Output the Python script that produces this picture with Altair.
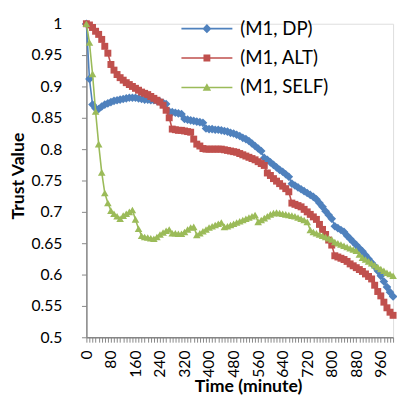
import altair as alt
import pandas as pd

minutes = list(range(0, 1001, 10))
names = ["(M1, DP)", "(M1, ALT)", "(M1, SELF)"]
colors = ["#4F81BD", "#C0504D", "#9BBB59"]

dp = [1.000, 0.912, 0.871, 0.865, 0.864, 0.868, 0.871, 0.873, 0.875, 0.877,
      0.878, 0.879, 0.880, 0.881, 0.882, 0.882, 0.882, 0.881, 0.880, 0.879,
      0.879, 0.878, 0.878, 0.877, 0.876, 0.874, 0.872, 0.860, 0.859, 0.858,
      0.857, 0.856, 0.848, 0.847, 0.846, 0.845, 0.844, 0.843, 0.842, 0.833,
      0.832, 0.832, 0.831, 0.831, 0.830, 0.829, 0.828, 0.826, 0.825, 0.823,
      0.821, 0.818, 0.816, 0.813, 0.809, 0.805, 0.801, 0.797, 0.786, 0.783,
      0.779, 0.775, 0.771, 0.767, 0.764, 0.760, 0.756, 0.745, 0.742, 0.739,
      0.736, 0.733, 0.730, 0.727, 0.724, 0.720, 0.714, 0.708, 0.701, 0.695,
      0.689, 0.677, 0.674, 0.671, 0.668, 0.662, 0.657, 0.652, 0.647, 0.642,
      0.637, 0.631, 0.625, 0.619, 0.613, 0.606, 0.598, 0.589, 0.580, 0.572, 0.565]

alt_v = [1.000, 0.998, 0.994, 0.988, 0.983, 0.975, 0.964, 0.953, 0.935, 0.926,
         0.919, 0.914, 0.910, 0.906, 0.903, 0.900, 0.897, 0.894, 0.891, 0.889,
         0.887, 0.884, 0.881, 0.878, 0.875, 0.870, 0.862, 0.850, 0.832, 0.831,
         0.830, 0.830, 0.829, 0.828, 0.827, 0.816, 0.808, 0.805, 0.801, 0.800,
         0.800, 0.800, 0.800, 0.800, 0.800, 0.799, 0.798, 0.797, 0.796, 0.795,
         0.793, 0.791, 0.789, 0.787, 0.785, 0.783, 0.780, 0.777, 0.774, 0.762,
         0.758, 0.753, 0.749, 0.745, 0.741, 0.737, 0.732, 0.714, 0.712, 0.710,
         0.708, 0.704, 0.700, 0.696, 0.692, 0.688, 0.680, 0.672, 0.664, 0.655,
         0.647, 0.630, 0.628, 0.626, 0.624, 0.621, 0.617, 0.614, 0.611, 0.608,
         0.605, 0.601, 0.597, 0.593, 0.583, 0.573, 0.566, 0.556, 0.547, 0.540, 0.535]

self_v = [1.000, 0.970, 0.920, 0.860, 0.808, 0.763, 0.730, 0.714, 0.702, 0.697,
          0.693, 0.689, 0.694, 0.697, 0.700, 0.703, 0.688, 0.673, 0.662, 0.660,
          0.659, 0.658, 0.657, 0.660, 0.664, 0.667, 0.670, 0.672, 0.666, 0.666,
          0.665, 0.665, 0.668, 0.672, 0.675, 0.676, 0.663, 0.666, 0.669, 0.672,
          0.675, 0.677, 0.679, 0.681, 0.683, 0.676, 0.677, 0.679, 0.681, 0.683,
          0.685, 0.687, 0.689, 0.691, 0.693, 0.695, 0.684, 0.687, 0.690, 0.693,
          0.696, 0.698, 0.699, 0.698, 0.697, 0.696, 0.695, 0.694, 0.693, 0.691,
          0.689, 0.687, 0.684, 0.671, 0.668, 0.666, 0.664, 0.662, 0.660, 0.658,
          0.656, 0.652, 0.650, 0.648, 0.646, 0.644, 0.642, 0.640, 0.638, 0.632,
          0.627, 0.624, 0.621, 0.618, 0.615, 0.612, 0.609, 0.606, 0.603, 0.601, 0.598]

y_ticks = [0.5, 0.55, 0.6, 0.65, 0.7, 0.75, 0.8, 0.85, 0.9, 0.95, 1.0]

rows = []
for name, vals in zip(names, [dp, alt_v, self_v]):
    for m, v in zip(minutes, vals):
        rows.append({"series": name, "minute": m, "value": v})
df = pd.DataFrame(rows)

FONT = "Lato"
AX = "#868686"

x_enc = alt.X("minute:Q",
              scale=alt.Scale(domain=[0, 1000], nice=False, zero=False),
              axis=alt.Axis(values=minutes,
                            labelExpr="datum.value % 80 == 0 ? datum.label : ''",
                            labelAngle=270, labelOverlap=False, labelFont=FONT,
                            labelFontSize=16, labelColor="#000000", labelPadding=8,
                            tickSize=5, tickColor=AX, domainColor=AX, domainWidth=1.5,
                            tickWidth=1, grid=False,
                            title="Time (minute)", titleFont=FONT, titleFontSize=18,
                            titleFontWeight="bold", titleColor="#000000",
                            titleX=165, titleY=55, titleAlign="center",
                            titleBaseline="alphabetic"))
y_enc = alt.Y("value:Q",
              scale=alt.Scale(domain=[0.5, 1.0], nice=False, zero=False),
              axis=alt.Axis(values=y_ticks, format=".2~f", labelFont=FONT,
                            labelFontSize=16, labelColor="#000000", labelPadding=20,
                            tickSize=5, tickColor=AX, domainColor=AX, domainWidth=1.5,
                            grid=False,
                            title="Trust Value", titleFont=FONT, titleFontSize=18,
                            titleFontWeight="bold", titleColor="#000000",
                            titleX=-69, titleY=155, titleAngle=270, titleAlign="center",
                            titleBaseline="middle"))

shapes = ["diamond", "square", "triangle-up"]
sizes = [78, 50, 60]

layers = []
for name, col, shp, sz in zip(names, colors, shapes, sizes):
    base = alt.Chart(df).transform_filter(alt.datum.series == name)
    line = base.mark_line(strokeWidth=1.6, color=col).encode(x=x_enc, y=y_enc)
    pts = base.mark_point(filled=True, opacity=1, size=sz, shape=shp, color=col).encode(
        x=x_enc, y=y_enc)
    layers += [line, pts]

# legend symbols: a short line with the series marker on it (unit = 10 px)
legend_paths = [
    "M-2.6,-0.08H2.6V0.08H-2.6Z M0,-0.46L0.46,0L0,0.46L-0.46,0Z",
    "M-2.6,-0.08H2.6V0.08H-2.6Z M-0.35,-0.35H0.35V0.35H-0.35Z",
    "M-2.6,-0.08H2.6V0.08H-2.6Z M0,-0.43L0.43,0.33H-0.43Z",
]


def make_legend():
    return alt.Legend(title=None, orient="none", legendX=113, legendY=-5,
                      symbolSize=400, symbolStrokeWidth=0,
                      labelFont=FONT, labelFontSize=19,
                      labelColor="#000000", labelOffset=24,
                      rowPadding=10, padding=0)


legend_layer = alt.Chart(df).transform_filter("false").mark_point(
    filled=True, opacity=1).encode(
    x=x_enc, y=y_enc,
    color=alt.Color("series:N", scale=alt.Scale(domain=names, range=colors),
                    legend=make_legend()),
    shape=alt.Shape("series:N", scale=alt.Scale(domain=names, range=legend_paths),
                    legend=make_legend()),
)
layers.append(legend_layer)

chart = alt.layer(*layers).properties(
    width=313, height=320,
    autosize=alt.AutoSizeParams(type="none"),
    padding={"left": 80, "top": 12, "right": 4, "bottom": 62},
).configure_view(stroke=None).configure(background="white")

chart.save("out.html", embed_options={"renderer": "svg", "actions": False})
